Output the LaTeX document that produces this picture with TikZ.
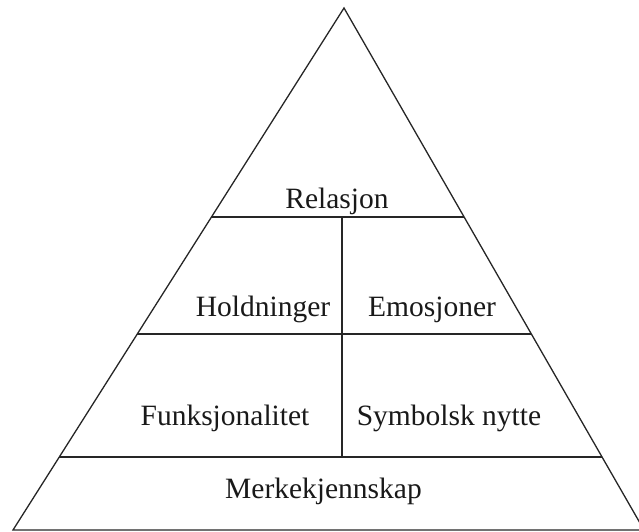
\documentclass[tikz,border=0pt]{standalone}
\usepackage{fontspec}
\setmainfont{Liberation Serif}
\usetikzlibrary{calc}
\begin{document}
\begin{tikzpicture}[x=1pt,y=-1pt,
  edge/.style={line width=1.3pt,draw=black!85},
  label/.style={anchor=base,inner sep=0pt,font=\fontsize{29.5}{34}\selectfont,text=black!90}]
  \useasboundingbox (0,0) rectangle (639,531);
  \clip (0,0) rectangle (639,531);
  % pyramid outline
  \coordinate (apex) at (344,8);
  \coordinate (bl) at (13,530);
  \coordinate (br) at (644,530);
  \draw[edge] (bl) -- (apex) -- (br) -- cycle;
  % tier boundaries
  \coordinate (l1) at ($(bl)!{(530-217)/522}!(apex)$);
  \coordinate (r1) at ($(br)!{(530-217)/522}!(apex)$);
  \coordinate (l2) at ($(bl)!{(530-334)/522}!(apex)$);
  \coordinate (r2) at ($(br)!{(530-334)/522}!(apex)$);
  \coordinate (l3) at ($(bl)!{(530-457)/522}!(apex)$);
  \coordinate (r3) at ($(br)!{(530-457)/522}!(apex)$);
  \draw[edge] (l1) -- (r1);
  \draw[edge] (l2) -- (r2);
  \draw[edge] (l3) -- (r3);
  % central divider
  \coordinate (vt) at (342,217);
  \coordinate (vb) at (342,457);
  \draw[edge] (vt) -- (vb);
  % labels
  \node[label] (rel) at (337,208) {Relasjon};
  \node[label] (hold) at (263,316) {Holdninger};
  \node[label] (emo) at (432,316) {Emosjoner};
  \node[label] (funk) at (225,425) {Funksjonalitet};
  \node[label] (sym) at (449,425) {Symbolsk nytte};
  \node[label] (merke) at (323.5,498) {Merkekjennskap};
\end{tikzpicture}
\end{document}
